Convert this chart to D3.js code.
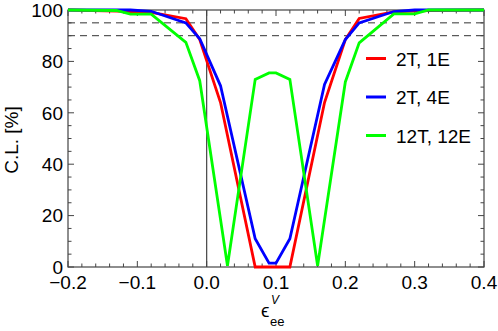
<!DOCTYPE html>
<html>
<head>
<meta charset="utf-8">
<script src="https://cdn.jsdelivr.net/npm/d3@7"></script>
<style>
  body { margin: 0; background: #fff; }
  svg text { font-family: "Liberation Sans", Arial, sans-serif; fill: #000; }
</style>
</head>
<body>
<div id="chart"></div>
<script>
// values
const redX = [-0.2, -0.13, -0.08, -0.03, -0.01, 0.02, 0.07, 0.12, 0.17, 0.2, 0.22, 0.27, 0.32, 0.4];
const redY = [100, 99.6, 99.1, 96.6, 88.5, 64, 0, 0, 64, 88.5, 96.7, 99.3, 99.8, 100];

const blueX = [-0.2, -0.11, -0.08, -0.03, -0.01, 0.02, 0.07, 0.09, 0.1, 0.12, 0.17, 0.2, 0.22, 0.27, 0.3, 0.4];
const blueY = [100, 100, 99.5, 95, 88.8, 70.5, 11, 1.5, 1.5, 11, 71, 88.5, 95, 99.4, 100, 100];

const greenX = [-0.2, -0.13, -0.11, -0.08, -0.03, -0.01, 0.03, 0.07, 0.09, 0.1, 0.12, 0.16, 0.2, 0.22, 0.27, 0.3, 0.32, 0.4];
const greenY = [100, 99.8, 98.4, 98.4, 87.4, 72.5, 0.5, 73, 75.5, 75.5, 73, 0.5, 72, 87.2, 98.5, 98.5, 100, 100];

const seriesNames = ['2T, 1E', '2T, 4E', '12T, 12E'];
const seriesColors = ['#ff0000', '#0000ff', '#00ff00'];

const xTicks = [-0.2, -0.1, 0.0, 0.1, 0.2, 0.3, 0.4];
const yTicks = [0, 20, 40, 60, 80, 100];
const refLevels = [95, 90];

const width = 498;
const height = 331;
const margin = { left: 68, right: 14, top: 10, bottom: 64 };

const svg = d3.select('#chart')
  .append('svg')
  .attr('width', width)
  .attr('height', height);

const x = d3.scaleLinear().domain([-0.2, 0.4]).range([margin.left, width - margin.right]);
const y = d3.scaleLinear().domain([0, 100]).range([height - margin.bottom, margin.top]);

const frame = '#444';

// reference lines
svg.selectAll('.ref')
  .data(refLevels)
  .enter()
  .append('line')
  .attr('x1', x(-0.2))
  .attr('x2', x(0.4))
  .attr('y1', (d) => y(d))
  .attr('y2', (d) => y(d))
  .attr('stroke', '#333')
  .attr('stroke-width', 1)
  .attr('stroke-dasharray', '7,5');

svg.append('line')
  .attr('x1', x(0)).attr('x2', x(0))
  .attr('y1', y(0)).attr('y2', y(100))
  .attr('stroke', '#444')
  .attr('stroke-width', 1.2);

// ticks on all four sides, pointing inward
const xMinor = d3.range(-0.2, 0.4001, 0.02);
const yMinor = d3.range(0, 100.1, 5);
const isMajorX = (v) => Math.abs(v * 10 - Math.round(v * 10)) < 1e-6;
const isMajorY = (v) => v % 20 === 0;

const tickG = svg.append('g').attr('stroke', frame).attr('stroke-width', 1);
xMinor.forEach((v) => {
  const len = isMajorX(v) ? 6 : 3.5;
  tickG.append('line').attr('x1', x(v)).attr('x2', x(v)).attr('y1', y(0)).attr('y2', y(0) - len);
  tickG.append('line').attr('x1', x(v)).attr('x2', x(v)).attr('y1', y(100)).attr('y2', y(100) + len);
});
yMinor.forEach((v) => {
  const len = isMajorY(v) ? 6 : 3.5;
  tickG.append('line').attr('x1', x(-0.2)).attr('x2', x(-0.2) + len).attr('y1', y(v)).attr('y2', y(v));
  tickG.append('line').attr('x1', x(0.4)).attr('x2', x(0.4) - len).attr('y1', y(v)).attr('y2', y(v));
});

svg.append('rect')
  .attr('x', x(-0.2))
  .attr('y', y(100))
  .attr('width', x(0.4) - x(-0.2))
  .attr('height', y(0) - y(100))
  .attr('fill', 'none')
  .attr('stroke', frame)
  .attr('stroke-width', 1.2);

// tick labels
const fmtX = (d) => (d < 0 ? '\u2212' : '') + Math.abs(d).toFixed(1);
svg.selectAll('.xlab')
  .data(xTicks)
  .enter()
  .append('text')
  .attr('x', (d) => x(d))
  .attr('y', 289)
  .attr('text-anchor', 'middle')
  .style('font-size', '19px')
  .text(fmtX);

svg.selectAll('.ylab')
  .data(yTicks)
  .enter()
  .append('text')
  .attr('x', 63)
  .attr('y', (d) => y(d) + 6.8)
  .attr('text-anchor', 'end')
  .style('font-size', '19px')
  .text((d) => d);

// curves
const series = [
  { xs: redX, ys: redY },
  { xs: blueX, ys: blueY },
  { xs: greenX, ys: greenY },
];
const line = d3.line().x((d) => x(d[0])).y((d) => y(d[1]));

series.forEach((s, i) => {
  svg.append('path')
    .datum(d3.zip(s.xs, s.ys))
    .attr('d', line)
    .attr('fill', 'none')
    .attr('stroke', seriesColors[i])
    .attr('stroke-width', 2.8)
    .attr('stroke-linejoin', 'miter');
});

// legend
const legend = svg.append('g');
seriesNames.forEach((name, i) => {
  const ly = 58.5 + i * 38.5;
  legend.append('line')
    .attr('x1', 366).attr('x2', 386)
    .attr('y1', ly).attr('y2', ly)
    .attr('stroke', seriesColors[i])
    .attr('stroke-width', 3);
  legend.append('text')
    .attr('x', 396)
    .attr('y', ly + 7)
    .style('font-size', '19px')
    .text(name);
});

// axis titles
svg.append('text')
  .attr('transform', 'translate(18,140) rotate(-90)')
  .attr('text-anchor', 'middle')
  .style('font-size', '19px')
  .text('C.L. [%]');

svg.append('text')
  .attr('x', 261)
  .attr('y', 317)
  .style('font-size', '19px')
  .text('\u03f5');
svg.append('text')
  .attr('x', 271)
  .attr('y', 304)
  .style('font-size', '12px')
  .style('font-style', 'italic')
  .text('V');
svg.append('text')
  .attr('x', 270)
  .attr('y', 326)
  .style('font-size', '13px')
  .text('ee');
</script>
</body>
</html>
